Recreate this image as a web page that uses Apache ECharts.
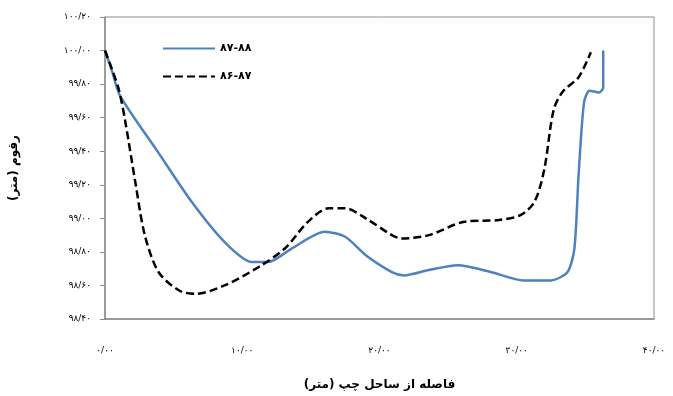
<!DOCTYPE html>
<html>
<head>
<meta charset="utf-8">
<script src="https://cdn.jsdelivr.net/npm/echarts@6/dist/echarts.min.js"></script>
<style>
  html, body { margin: 0; padding: 0; background: #fff; }
  #chart { width: 673px; height: 396px; }
</style>
</head>
<body>
<div id="chart"></div>
<script>
var seriesNames = ["۸۷-۸۸", "۸۶-۸۷"];

// distance from left bank (m)
var x8788 = [0, 0.5, 1.1, 3.9, 6.3, 8.7, 10.7, 11.9, 13.6, 16.0, 17.5, 19.0, 20.9, 21.8, 23.5, 25.7, 28.1, 30.5, 32.5, 33.7, 34.2, 34.5, 34.9, 35.3, 36.0, 36.3, 36.3];
var y8788 = [100.0, 99.88, 99.73, 99.39, 99.10, 98.86, 98.74, 98.74, 98.82, 98.92, 98.89, 98.78, 98.68, 98.66, 98.69, 98.72, 98.68, 98.63, 98.63, 98.68, 98.82, 99.25, 99.69, 99.76, 99.75, 99.78, 100.0];

var x8687 = [0, 0.5, 1.0, 1.45, 2.2, 2.9, 3.9, 5.4, 6.6, 8.7, 11.2, 13.1, 14.8, 16.3, 17.5, 19.0, 20.9, 21.6, 23.6, 26.2, 28.7, 30.3, 31.3, 32.0, 32.7, 33.4, 34.5, 35.4];
var y8687 = [100.0, 99.89, 99.77, 99.59, 99.22, 98.90, 98.68, 98.57, 98.55, 98.60, 98.71, 98.82, 98.98, 99.06, 99.06, 99.00, 98.90, 98.88, 98.90, 98.98, 98.99, 99.02, 99.10, 99.29, 99.65, 99.76, 99.84, 99.99];

var faDigits = ["۰", "۱", "۲", "۳", "۴", "۵", "۶", "۷", "۸", "۹"];
function toFa(v) {
  return v.toFixed(2).replace(".", "/").replace(/[0-9]/g, function (d) { return faDigits[+d]; });
}
function pairs(xs, ys) {
  return xs.map(function (x, i) { return [x, ys[i]]; });
}

var chart = echarts.init(document.getElementById("chart"));
var font = "DejaVu Sans";
var option = {
  backgroundColor: "#fff",
  animation: false,
  textStyle: { fontFamily: font },
  grid: {
    left: 103, right: 19, top: 17, bottom: 75,
    show: true, borderColor: "#8c8c8c", borderWidth: 1
  },
  legend: {
    orient: "vertical",
    left: 157, top: 38,
    itemGap: 17,
    itemWidth: 52, itemHeight: 10,
    itemStyle: { opacity: 0 },
    textStyle: { fontFamily: font, fontSize: 11, color: "#000", fontWeight: "bold" },
    data: seriesNames
  },
  xAxis: {
    type: "value",
    min: 0, max: 40, interval: 10,
    name: "فاصله از ساحل چپ (متر)",
    nameLocation: "middle",
    nameGap: 60,
    nameTextStyle: { fontFamily: font, fontSize: 12, color: "#000", fontWeight: "bold" },
    axisLine: { lineStyle: { color: "#8c8c8c", width: 1.5 } },
    axisTick: { show: false },
    splitLine: { show: false },
    axisLabel: { color: "#000", fontSize: 9, margin: 27, formatter: toFa }
  },
  yAxis: {
    type: "value",
    min: 98.4, max: 100.2, interval: 0.2,
    name: "رقوم (متر)",
    nameLocation: "middle",
    nameRotate: 90,
    nameGap: 85,
    nameTextStyle: { fontFamily: font, fontSize: 12, color: "#000", fontWeight: "bold" },
    axisLine: { show: true, lineStyle: { color: "#8c8c8c", width: 1.5 } },
    axisTick: { show: true, inside: false, length: 5, lineStyle: { color: "#8c8c8c" } },
    splitLine: { show: false },
    axisLabel: { color: "#000", fontSize: 9, margin: 14, formatter: toFa }
  },
  series: [
    {
      name: seriesNames[0],
      type: "line",
      smooth: 0.25,
      symbol: "none",
      data: pairs(x8788, y8788),
      lineStyle: { color: "#4f81bd", width: 2.5 },
      itemStyle: { color: "#4f81bd" }
    },
    {
      name: seriesNames[1],
      type: "line",
      smooth: 0.3,
      symbol: "none",
      data: pairs(x8687, y8687),
      lineStyle: { color: "#000", width: 2.5, type: [8, 4] },
      itemStyle: { color: "#000" }
    }
  ]
};
chart.setOption(option);
</script>
</body>
</html>
